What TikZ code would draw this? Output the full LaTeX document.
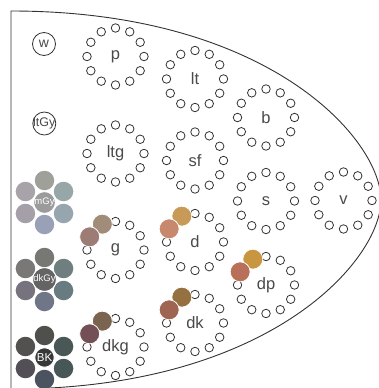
\documentclass[tikz,border=0pt]{standalone}
\usepackage{fontspec}
\setmainfont{Liberation Sans}
\definecolor{ringc}{HTML}{333333}
\definecolor{labc}{HTML}{4A4A4A}
\definecolor{mGyT}{HTML}{A0A09B}
\definecolor{mGyRT}{HTML}{97A7A8}
\definecolor{mGyRB}{HTML}{97A6AE}
\definecolor{mGyB}{HTML}{9AA0B6}
\definecolor{mGyLB}{HTML}{A49FA9}
\definecolor{mGyLT}{HTML}{A7A3A8}
\definecolor{mGyC}{HTML}{9B9B9B}
\definecolor{dkGyT}{HTML}{777773}
\definecolor{dkGyRT}{HTML}{6F7F7F}
\definecolor{dkGyRB}{HTML}{677B80}
\definecolor{dkGyB}{HTML}{6E7688}
\definecolor{dkGyLB}{HTML}{77737E}
\definecolor{dkGyLT}{HTML}{7A7777}
\definecolor{dkGyC}{HTML}{646464}
\definecolor{BKT}{HTML}{4F4F4B}
\definecolor{BKRT}{HTML}{4A5757}
\definecolor{BKRB}{HTML}{475757}
\definecolor{BKB}{HTML}{4B5360}
\definecolor{BKLB}{HTML}{534F57}
\definecolor{BKLT}{HTML}{535050}
\definecolor{BKC}{HTML}{383838}
\definecolor{gBack}{HTML}{A08C78}
\definecolor{gFront}{HTML}{9C7C74}
\definecolor{dBack}{HTML}{C89A58}
\definecolor{dFront}{HTML}{C8886E}
\definecolor{dkBack}{HTML}{957040}
\definecolor{dkFront}{HTML}{A06452}
\definecolor{dkgBack}{HTML}{7A6450}
\definecolor{dkgFront}{HTML}{735055}
\definecolor{dpBack}{HTML}{C89640}
\definecolor{dpFront}{HTML}{B8705A}
\newcommand{\myring}[4]{%
  \node[ringlbl] (#1) at (#2,#3) {#4};
  \foreach \a in {0,30,...,330}
    \node[ringdot] (#1-\a) at ({#2+28.5*cos(\a)},{#3-28.5*sin(\a)}) {};
}
\newcommand{\mypring}[4]{%
  \node[ringlbl] (#1) at (#2,#3) {#4};
  \foreach \a in {0,30,60,90,180,210,240,270,300,330}
    \node[ringdot] (#1-\a) at ({#2+28.5*cos(\a)},{#3-28.5*sin(\a)}) {};
  \node[paintdot,fill=#1Back] (#1-back) at ({#2+29*cos(117)},{#3-29*sin(117)}) {};
  \node[paintdot,fill=#1Front] (#1-front) at ({#2+29*cos(153)},{#3-29*sin(153)}) {};
}
\newcommand{\myflower}[4]{%
  \foreach \a/\s in {90/T,30/RT,-30/RB,-90/B,-150/LB,150/LT}
    \node[petalc,fill=#1\s] (#1-\s) at ({#2+22*cos(\a)},{#3-22*sin(\a)}) {};
  \node[petalc,fill=#1C,draw=white,line width=0.9pt,text=white] (#1) at (#2,#3) {#4};
}
\begin{document}
\begin{tikzpicture}[x=1pt,y=-1pt,
  ringdot/.style={circle,draw=ringc,line width=0.8pt,minimum size=8.5pt,inner sep=0pt,fill=white},
  ringlbl/.style={text=labc,font=\fontsize{16.5}{17}\selectfont,inner sep=0pt},
  paintdot/.style={circle,minimum size=20pt,inner sep=0pt,draw=white,line width=0.8pt},
  petalc/.style={circle,minimum size=19.5pt,inner sep=0pt},
  swatch/.style={circle,draw=ringc,line width=0.8pt,minimum size=23pt,inner sep=0pt,text=labc},
  outline/.style={draw=ringc,line width=0.9pt}]
\useasboundingbox (0,0) rectangle (378,388);
\fill[white] (0,0) rectangle (378,388);
\coordinate (tl) at (11,11);
\coordinate (bl) at (11,392);
\coordinate (tip) at (381,200);
\coordinate (bot) at (11,389);
\draw[outline] (bl) -- (tl) .. controls (270,11) and (381,140) .. (tip)
  .. controls (381,260) and (270,389) .. (bot);
% swatches
\node[swatch,font=\fontsize{14}{14}\selectfont] (w) at (44,44) {w};
\node[swatch] (ltGy) at (44.3,123.5) {};
\node[text=labc,font=\fontsize{12.5}{13}\selectfont,inner sep=0pt] (ltGyl) at (ltGy) {ltGy};
\myflower{mGy}{44.5}{202.5}{\fontsize{9.5}{10}\selectfont mGy}
\myflower{dkGy}{44.5}{279.5}{\fontsize{9.5}{10}\selectfont dkGy}
\myflower{BK}{44.5}{357.5}{\fontsize{11.5}{12}\selectfont BK}
% rings
\myring{p}{115.5}{56.5}{p}
\myring{ltg}{115.5}{153.5}{ltg}
\mypring{g}{115.5}{250}{g}
\mypring{dkg}{115.5}{347}{dkg}
\myring{lt}{195}{79}{lt}
\myring{sf}{195}{160.5}{sf}
\mypring{d}{195}{242}{d}
\mypring{dk}{195}{323}{dk}
\myring{b}{266}{117.5}{b}
\myring{s}{266}{201}{s}
\mypring{dp}{266}{285}{dp}
\myring{v}{343.5}{200.5}{v}
\end{tikzpicture}
\end{document}
